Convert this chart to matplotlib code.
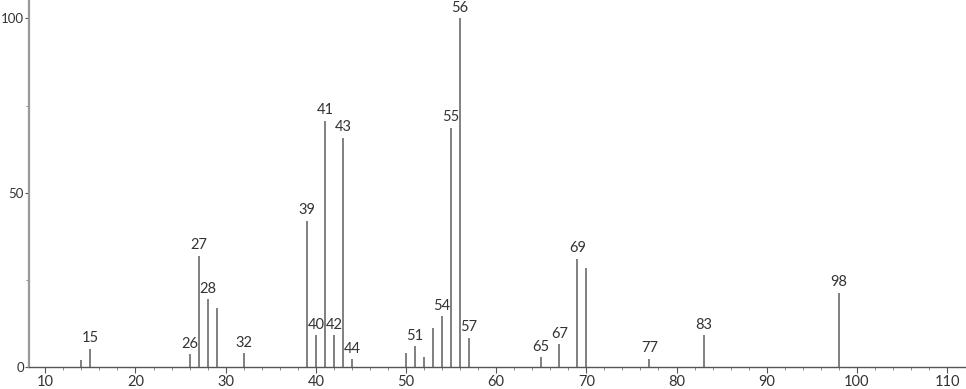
import matplotlib.pyplot as plt
import numpy as np

# m/z and relative intensity
mz = [14, 15, 26, 27, 28, 29, 32, 39, 40, 41, 42, 43, 44,
      50, 51, 52, 53, 54, 55, 56, 57, 65, 67, 69, 70, 77, 83, 98]
intensity = [2.1, 5.3, 3.6, 31.9, 19.4, 17.0, 4.0, 41.9, 9.1, 70.7, 9.1, 65.8, 2.2,
             4.1, 6.0, 2.8, 11.3, 14.6, 68.7, 100.0, 8.4, 2.8, 6.5, 31.1, 28.5, 2.4, 9.1, 21.3]
labeled = [15, 26, 27, 28, 32, 39, 40, 41, 42, 43, 44, 51, 54, 55, 56, 57,
           65, 67, 69, 77, 83, 98]

plt.rcParams['font.family'] = ['Lato', 'DejaVu Sans']

fig = plt.figure(figsize=(9.66, 3.89), dpi=100)
ax = fig.add_axes([0.030, 0.0566, 0.970, 0.9434])

ax.vlines(mz, 0, intensity, color='#808080', linewidth=1.4)

for m, v in zip(mz, intensity):
    if m in labeled:
        ax.annotate(str(m), (m, v), xytext=(0, 2.5), textcoords='offset points',
                    ha='center', va='bottom', fontsize=10.5, color='#333333')

ax.set_xlim(8.19, 112.1)
ax.set_ylim(0, 105.3)

ax.set_xticks(np.arange(10, 111, 10))
ax.set_xticks(np.arange(10, 112, 2), minor=True)
ax.set_yticks([0, 50, 100])
ax.set_yticks([25, 75], minor=True)

for s in ['top', 'right']:
    ax.spines[s].set_visible(False)
ax.spines['left'].set_color('#999999')
ax.spines['left'].set_linewidth(1.6)
ax.spines['bottom'].set_color('#555555')
ax.spines['bottom'].set_linewidth(1.0)

ax.tick_params(axis='x', which='major', length=4, width=0.8, color='#555555',
               labelsize=10.5, labelcolor='#333333', pad=2)
ax.tick_params(axis='y', which='major', length=3, width=0.8, color='#555555',
               labelsize=9.5, labelcolor='#333333', pad=0.5)
ax.tick_params(axis='both', which='minor', length=2.5, width=0.6, color='#777777')

fig.savefig('out.png', dpi=100)
